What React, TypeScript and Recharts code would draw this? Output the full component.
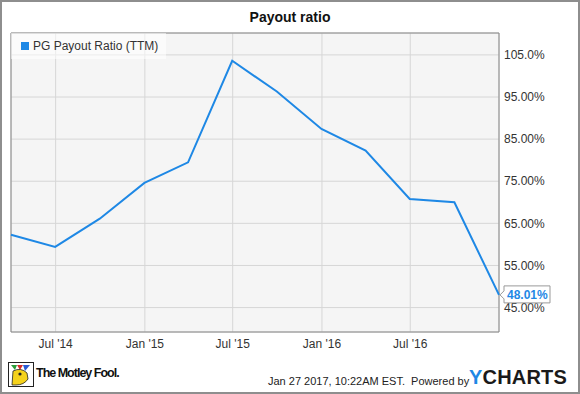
import React from "react";
import {
  LineChart,
  Line,
  XAxis,
  YAxis,
  CartesianGrid,
  ReferenceArea,
  Legend,
  LabelList,
} from "recharts";

const quarterEnds = [
  "2014-03-31",
  "2014-06-30",
  "2014-09-30",
  "2014-12-31",
  "2015-03-31",
  "2015-06-30",
  "2015-09-30",
  "2015-12-31",
  "2016-03-31",
  "2016-06-30",
  "2016-09-30",
  "2016-12-31",
];
const payoutRatio = [62.3, 59.4, 66.1, 74.6, 79.5, 103.6, 96.3, 87.4, 82.3, 70.8, 70.0, 48.01];

const xTickDates = ["2014-07-01", "2015-01-01", "2015-07-01", "2016-01-01", "2016-07-01"];
const xTickLabels = ["Jul '14", "Jan '15", "Jul '15", "Jan '16", "Jul '16"];
const yTicks = [45, 55, 65, 75, 85, 95, 105];
const yTickLabels = ["45.00%", "55.00%", "65.00%", "75.00%", "85.00%", "95.00%", "105.0%"];
const yDomain = [39.2, 110.2];
const seriesName = "PG Payout Ratio (TTM)";
const chartTitle = "Payout ratio";

const LINE_COLOR = "#1e88e5";
const FONT = "'Liberation Sans', Arial, sans-serif";

const data = quarterEnds.map((d, i) => ({ t: Date.parse(d), v: payoutRatio[i] }));
const xTicks = xTickDates.map((d) => Date.parse(d));

const xFmt = (t: number) => {
  const i = xTicks.indexOf(t);
  return i >= 0 ? xTickLabels[i] : "";
};
const yFmt = (v: number) => {
  const i = yTicks.indexOf(v);
  return i >= 0 ? yTickLabels[i] : "";
};

const lastValue = payoutRatio[payoutRatio.length - 1];

const EndLabel = (props: any) => {
  const { x, y, value } = props;
  if (value !== lastValue || x == null || y == null) return null;
  const bx = x + 5;
  const by = y - 9;
  const w = 46;
  const h = 17;
  const d = `M${bx},${by} L${bx + w},${by} L${bx + w},${by + h} L${bx},${by + h} L${bx},${y + 4} L${x + 1},${y} L${bx},${y - 4} Z`;
  return (
    <g>
      <path d={d} fill="#ffffff" stroke="#999999" strokeWidth={1} />
      <text
        x={bx + 3}
        y={y + 4.5}
        fontSize={12}
        fontWeight="bold"
        fill={LINE_COLOR}
        fontFamily={FONT}
      >
        {Number(value).toFixed(2) + "%"}
      </text>
    </g>
  );
};

const LegendContent = () => (
  <div
    style={{
      width: 155,
      height: 26,
      background: "rgba(255,255,255,0.55)",
      display: "flex",
      alignItems: "center",
      fontFamily: FONT,
      fontSize: 12,
      color: "#333",
      boxSizing: "border-box",
      paddingLeft: 10,
    }}
  >
    <span
      style={{
        display: "inline-block",
        width: 8,
        height: 8,
        background: LINE_COLOR,
        marginRight: 4,
      }}
    />
    <span>{seriesName}</span>
  </div>
);

const MotleyIcon = () => (
  <svg width={26} height={25} viewBox="0 0 26 25">
    <rect x={0.5} y={0.5} width={25} height={24} fill="#fff" stroke="#222" />
    <path d="M3,3 L9,3 L7,8 Z" fill="#2a9d3a" />
    <path d="M9,3 L15,3 L12,8 Z" fill="#d42a2a" />
    <path d="M15,3 L22,3 L17,9 Z" fill="#2a5bd4" />
    <path d="M5,9 Q13,5 19,11 L20,17 Q16,23 8,23 L4,23 Z" fill="#f5d21b" stroke="#222" strokeWidth={0.8} />
    <circle cx={12} cy={12} r={1.6} fill="#222" />
  </svg>
);

export default function App() {
  return (
    <div
      style={{
        position: "absolute",
        left: 0,
        top: 0,
        width: 580,
        height: 394,
        background: "#fff",
        fontFamily: FONT,
      }}
    >
      <div
        style={{
          position: "absolute",
          left: 0,
          top: 9,
          width: 580,
          textAlign: "center",
          fontSize: 14,
          fontWeight: "bold",
          color: "#111",
        }}
      >
        {chartTitle}
      </div>
      <LineChart
        width={580}
        height={394}
        data={data}
        margin={{ top: 33, right: 0, left: 11, bottom: 32 }}
        style={{ position: "absolute", left: 0, top: 0 }}
      >
        <CartesianGrid stroke="#d6d6d6" fill="#f5f5f5" strokeWidth={1} />
        <XAxis
          dataKey="t"
          type="number"
          domain={["dataMin", "dataMax"]}
          ticks={xTicks}
          tickFormatter={xFmt}
          height={30}
          tickSize={0}
          tickMargin={7}
          axisLine={false}
          tick={{ fill: "#333", fontSize: 12, fontFamily: FONT }}
        />
        <YAxis
          orientation="right"
          type="number"
          domain={yDomain}
          ticks={yTicks}
          tickFormatter={yFmt}
          width={81}
          tickSize={0}
          tickMargin={5}
          axisLine={false}
          tick={{ fill: "#333", fontSize: 12, fontFamily: FONT, textAnchor: "start" }}
        />
        <ReferenceArea
          x1={data[0].t}
          x2={data[data.length - 1].t}
          y1={yDomain[0]}
          y2={yDomain[1]}
          fill="none"
          stroke="#888888"
          strokeWidth={1}
        />
        <Legend
          layout="horizontal"
          verticalAlign="middle"
          align="center"
          content={LegendContent}
          wrapperStyle={{ position: "absolute", left: 11, top: 33, width: 155, height: 26 }}
        />
        <Line
          type="linear"
          dataKey="v"
          name={seriesName}
          stroke={LINE_COLOR}
          strokeWidth={2}
          dot={false}
          activeDot={false}
          isAnimationActive={false}
        >
          <LabelList dataKey="v" content={EndLabel} />
        </Line>
      </LineChart>
      <div style={{ position: "absolute", left: 8, top: 362 }}>
        <MotleyIcon />
      </div>
      <div
        style={{
          position: "absolute",
          left: 36,
          top: 366,
          fontSize: 12.5,
          fontWeight: "bold",
          letterSpacing: -1,
          color: "#111",
        }}
      >
        The Motley Fool.
      </div>
      <div
        style={{
          position: "absolute",
          left: 268,
          top: 375,
          fontSize: 11,
          color: "#222",
          whiteSpace: "pre",
        }}
      >
        {"Jan 27 2017, 10:22AM EST.  Powered by"}
      </div>
      <div
        style={{
          position: "absolute",
          left: 469,
          top: 366,
          fontSize: 20,
          fontWeight: "bold",
          color: "#1a1a1a",
          letterSpacing: 0.2,
        }}
      >
        <span style={{ color: LINE_COLOR }}>Y</span>CHARTS
      </div>
      <div
        style={{
          position: "absolute",
          left: 0,
          top: 0,
          width: 580,
          height: 394,
          boxSizing: "border-box",
          border: "2px solid #8e8e8e",
          pointerEvents: "none",
        }}
      />
    </div>
  );
}
